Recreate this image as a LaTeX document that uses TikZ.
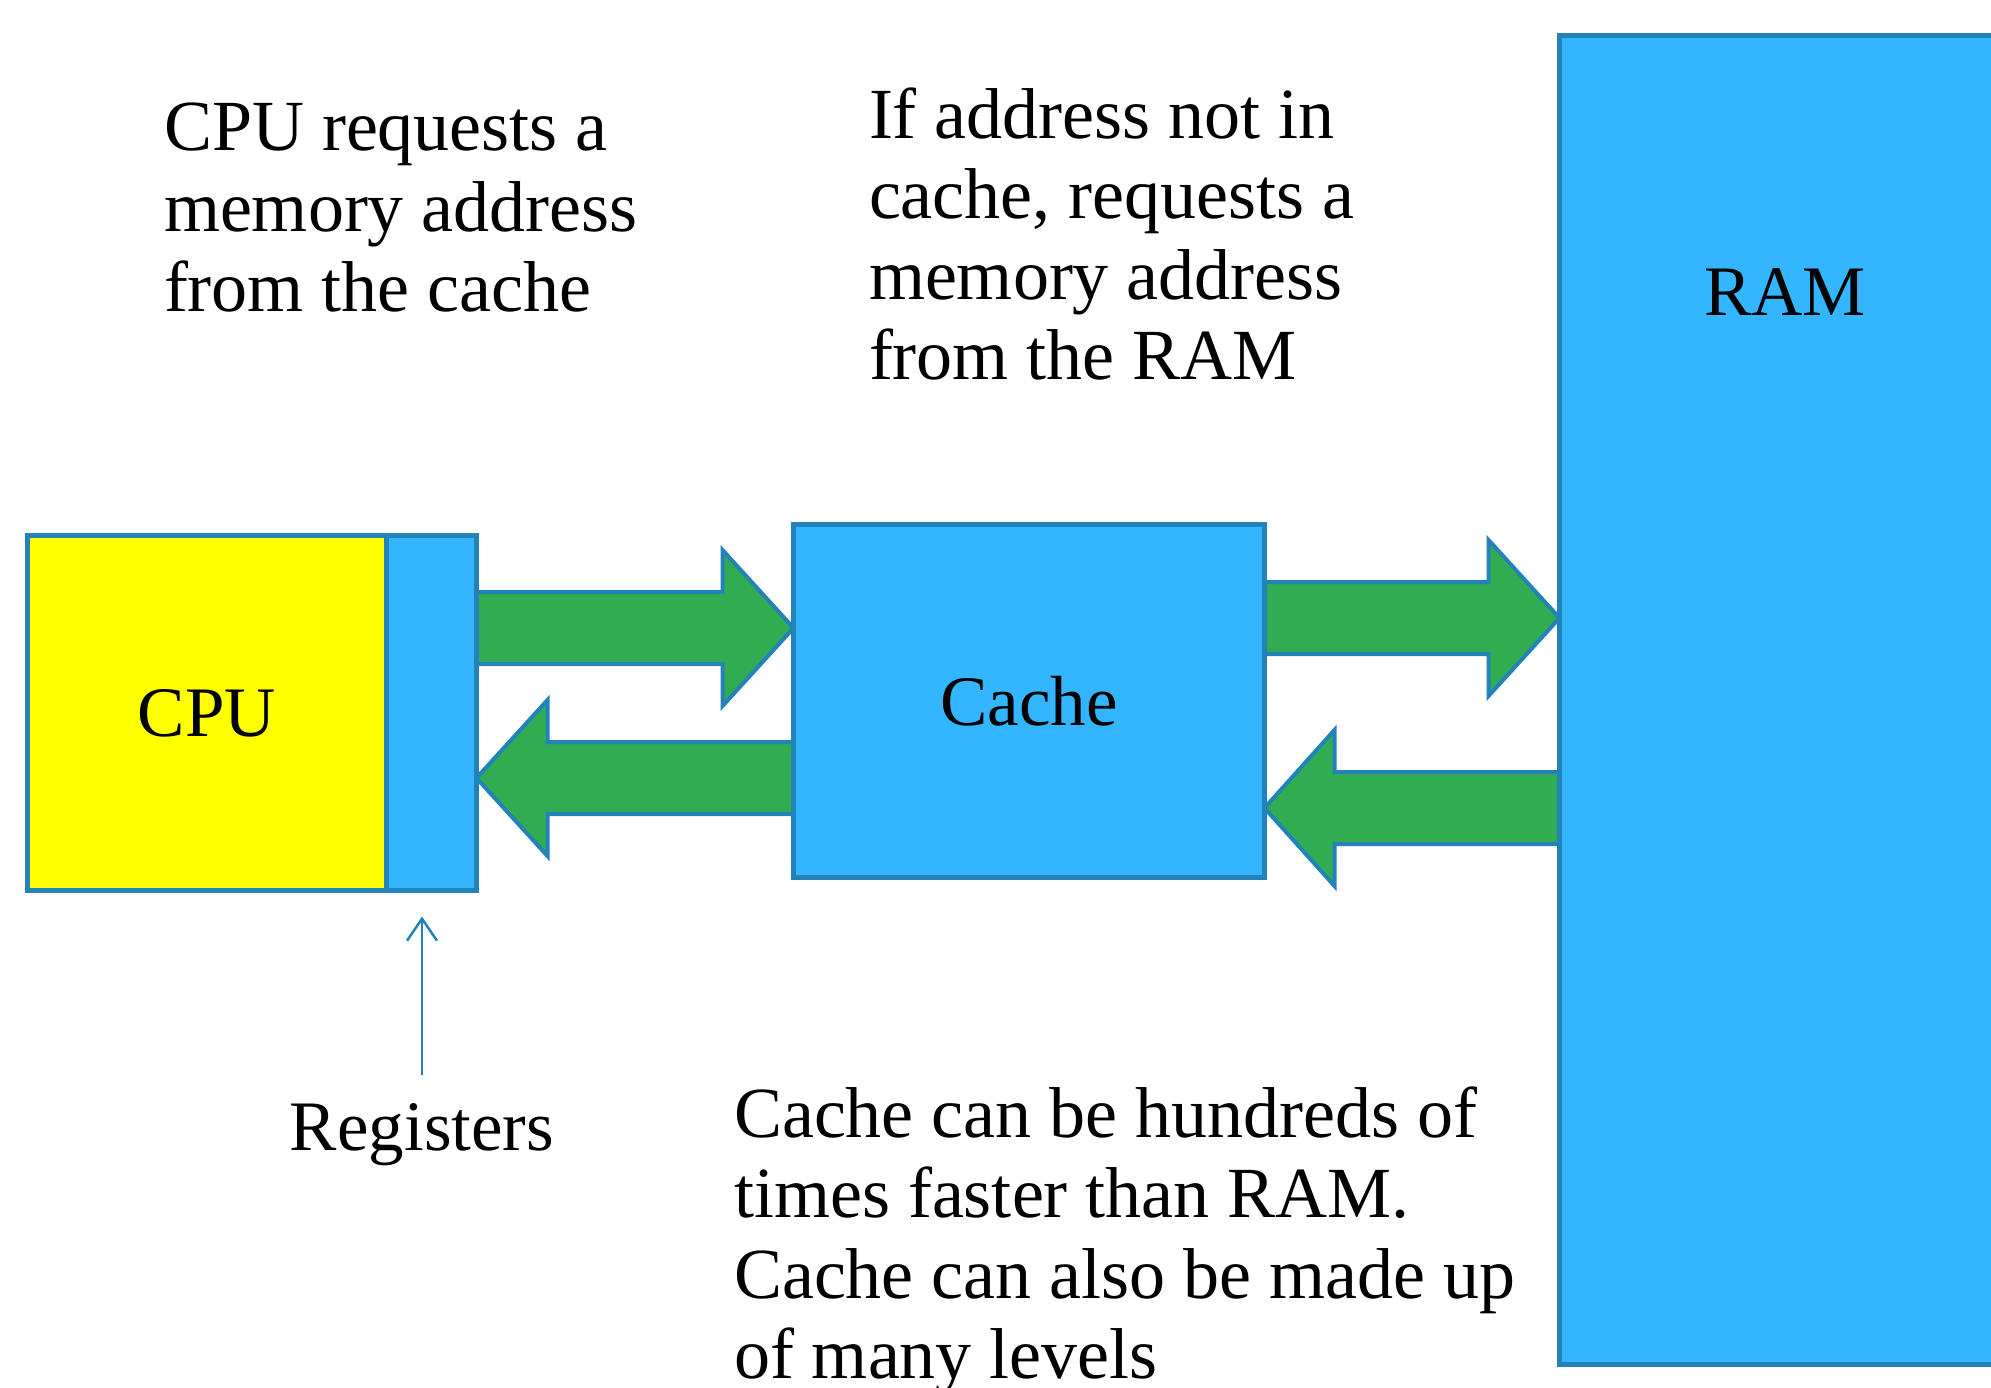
\documentclass[tikz,border=0pt]{standalone}
\usepackage{fontspec}
\setmainfont{Liberation Serif}
\usetikzlibrary{calc,arrows.meta,backgrounds}
\definecolor{boxblue}{RGB}{51,181,255}
\definecolor{edgeblue}{RGB}{35,131,185}
\definecolor{arrowgreen}{RGB}{50,172,80}
\definecolor{cpuyellow}{RGB}{255,255,0}
\newcommand{\blockarrow}[3]{%
  \draw[fatarrow] let \p1=(#1), \p2=(#2) in
    (\x1,{\y1+36pt}) -- ({\x2-(#3)},{\y1+36pt}) -- ({\x2-(#3)},{\y1+78pt}) -- (\x2,\y1)
    -- ({\x2-(#3)},{\y1-78pt}) -- ({\x2-(#3)},{\y1-36pt}) -- (\x1,{\y1-36pt}) -- cycle;}
\begin{document}
\begin{tikzpicture}[x=1pt,y=-1pt,
  box/.style={draw=edgeblue, line width=5pt, rectangle, inner sep=0pt, outer sep=0pt,
              font=\fontsize{71}{80.5}\selectfont},
  txt/.style={inner sep=0pt, outer sep=0pt, font=\fontsize{72}{80.5}\selectfont, align=left},
  fatarrow/.style={fill=arrowgreen, draw=edgeblue, line width=4pt, line join=miter},
  regarrow/.style={draw=edgeblue, line width=2.5pt, -{Straight Barb[length=22pt,width=30pt]},
                   shorten <=28pt, shorten >=26pt}]
\useasboundingbox (0,0) rectangle (1991,1388);

% boxes
\node[box, fill=cpuyellow, minimum width=358.5pt, minimum height=355pt] (cpu) at (206.75,713) {CPU};
\node[box, fill=boxblue, minimum width=90.5pt, minimum height=355pt] (reg) at (431.25,713) {};
\node[box, fill=boxblue, minimum width=471pt, minimum height=353pt] (cache) at (1029,701) {Cache};
\node[box, fill=boxblue, minimum width=490.5pt, minimum height=1329pt] (ram) at (1804.75,700) {};
\node[txt, anchor=base, font=\fontsize{71}{80.5}\selectfont] (ramlabel) at (1785,315) {RAM};

% block arrows
\begin{scope}[on background layer]
  \blockarrow{reg.east |- 0,628}{cache.west |- 0,628}{71pt}
  \blockarrow{cache.west |- 0,778}{reg.east |- 0,778}{-71pt}
  \blockarrow{cache.east |- 0,618}{ram.west |- 0,618}{71pt}
  \blockarrow{ram.west |- 0,808}{cache.east |- 0,808}{-70pt}
\end{scope}

% texts
\node[txt, anchor=north west] (t1) at (164,94.65) {\strut CPU requests a\\memory address\\from the cache};
\node[txt, anchor=north west] (t2) at (869,81.65) {\strut If address not in\\cache, requests a\\memory address\\from the RAM};
\node[txt, anchor=north west] (t3) at (734,1080.65) {\strut Cache can be hundreds of\\times faster than RAM.\\Cache can also be made up\\of many levels};

% registers
\node[txt, anchor=base, font=\fontsize{71}{80.5}\selectfont] (regtxt) at (422,1150) {Registers};
\draw[regarrow] (regtxt.north) -- (regtxt.north |- reg.south);
\end{tikzpicture}
\end{document}
